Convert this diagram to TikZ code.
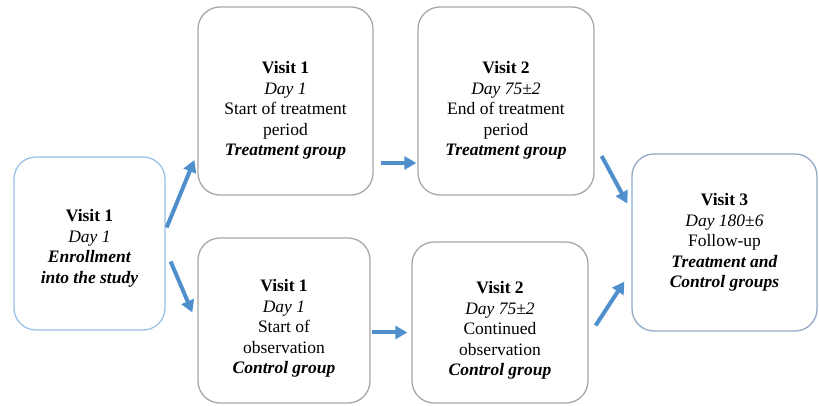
\documentclass[tikz,border=0pt]{standalone}
\usepackage{fontspec}
\setmainfont{Liberation Serif}
\usetikzlibrary{arrows.meta, positioning}
\definecolor{flowblue}{HTML}{4F8FCC}
\definecolor{boxgray}{HTML}{A8A8A8}
\definecolor{boxblue}{HTML}{9CC2E5}
\definecolor{boxslate}{HTML}{93A9C4}
% extra room above the first line, pushes the text down in its box
\newcommand{\topgap}[1]{\rule{0pt}{#1}}

\begin{document}
\begin{tikzpicture}[x=1pt, y=1pt,
    visit/.style={rectangle, rounded corners=22pt, draw=#1, line width=1.3pt, fill=white, align=center, font=\fontsize{17.5}{20.5}\selectfont},
    arrow/.style={-{Triangle[length=12pt, width=13pt]}, line width=4pt, color=flowblue}
]
\useasboundingbox (0,0) rectangle (819,406);

\node[visit=boxblue, minimum width=151pt, minimum height=173pt] (enroll) at (89.5,162.5)
    {\topgap{22pt}\textbf{Visit 1}\\\textit{Day 1}\\\textbf{\textit{Enrollment}}\\\textbf{\textit{into the study}}};
\node[visit=boxgray, minimum width=175pt, minimum height=188pt] (trt1) at (285.5,305)
    {\topgap{31pt}\textbf{Visit 1}\\\textit{Day 1}\\Start of treatment\\period\\\textbf{\textit{Treatment group}}};
\node[visit=boxgray, minimum width=176pt, minimum height=188pt] (trt2) at (506,305)
    {\topgap{31pt}\textbf{Visit 2}\\\textit{Day 75±2}\\End of treatment\\period\\\textbf{\textit{Treatment group}}};
\node[visit=boxgray, minimum width=172pt, minimum height=165pt] (ctl1) at (284,85.5)
    {\topgap{28pt}\textbf{Visit 1}\\\textit{Day 1}\\Start of\\observation\\\textbf{\textit{Control group}}};
\node[visit=boxgray, minimum width=176pt, minimum height=161pt] (ctl2) at (500,83.5)
    {\topgap{28pt}\textbf{Visit 2}\\\textit{Day 75±2}\\Continued\\observation\\\textbf{\textit{Control group}}};
\node[visit=boxslate, minimum width=185pt, minimum height=177pt] (fup) at (724.5,163.5)
    {\textbf{Visit 3}\\\textit{Day 180±6}\\Follow-up\\\textbf{\textit{Treatment and}}\\\textbf{\textit{Control groups}}};

\draw[arrow] ([xshift=1pt, yshift=16pt]enroll.east) -- ([xshift=-3pt, yshift=-59pt]trt1.west);
\draw[arrow] ([xshift=5pt, yshift=-18pt]enroll.east) -- ([xshift=-5pt, yshift=8pt]ctl1.west);
\draw[arrow] ([xshift=7pt, yshift=-62pt]trt1.east) -- ([xshift=-1pt, yshift=-62pt]trt2.west);
\draw[arrow] ([xshift=1pt, yshift=-12pt]ctl1.east) -- ([xshift=-4pt, yshift=-10pt]ctl2.west);

% into follow-up
\draw[arrow] ([xshift=7pt, yshift=-55pt]trt2.east) -- ([xshift=-4pt, yshift=39pt]fup.west);
\draw[arrow] ([xshift=7pt, yshift=-3pt]ctl2.east) -- ([xshift=-7pt, yshift=-39pt]fup.west);

\end{tikzpicture}
\end{document}
